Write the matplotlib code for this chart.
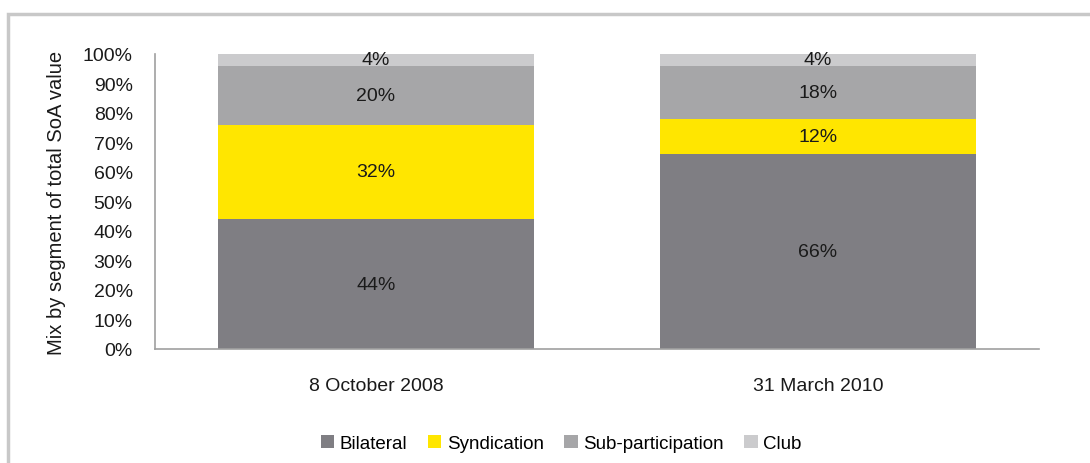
import matplotlib.pyplot as plt
from matplotlib.patches import Rectangle

plt.rcParams['font.family'] = ['Liberation Sans', 'DejaVu Sans']

dates = ["8 October 2008", "31 March 2010"]
segments = ["Bilateral", "Syndication", "Sub-participation", "Club"]
bilateral = [44, 66]
syndication = [32, 12]
sub_participation = [20, 18]
club = [4, 4]
colors = ["#7f7e83", "#ffe600", "#a6a6a8", "#cbcbcd"]

fig = plt.figure(figsize=(10.9, 4.64), dpi=100)
ax = fig.add_axes([0.1422, 0.2457, 0.8110, 0.6358])

# grey frame around the chart area
fig.patches.append(Rectangle((8 / 1090, -0.1), 1.2, (464 - 15) / 464 + 0.1,
                             transform=fig.transFigure, fill=False,
                             edgecolor="#c8c8c8", linewidth=2.5))

x = range(len(dates))
bottom = [0, 0]
for name, vals, c in zip(segments, [bilateral, syndication, sub_participation, club], colors):
    bars = ax.bar(x, vals, 0.713, bottom=bottom, color=c, label=name)
    for i, v in enumerate(vals):
        ax.text(i, bottom[i] + v / 2, f"{v}%", ha="center", va="center",
                fontsize=14, color="#1a1a1a")
    bottom = [b + v for b, v in zip(bottom, vals)]

ax.set_xlim(-0.5, 1.5)
ax.set_ylim(0, 100)
ax.set_yticks(range(0, 101, 10))
ax.set_yticklabels([f"{t}%" for t in range(0, 101, 10)])
ax.set_xticks(list(x))
ax.set_xticklabels(dates)
ax.tick_params(axis="both", length=0, labelsize=14, colors="#1a1a1a")
ax.tick_params(axis="y", pad=16)
ax.tick_params(axis="x", pad=20)
ax.spines["top"].set_visible(False)
ax.spines["right"].set_visible(False)
ax.spines["left"].set_color("#a0a0a0")
ax.spines["bottom"].set_color("#a0a0a0")
ax.spines["left"].set_linewidth(1.2)
ax.spines["bottom"].set_linewidth(1.2)
ax.set_ylabel("Mix by segment of total SoA value", fontsize=14.5, color="#1a1a1a", labelpad=12)

fig.legend(loc="center", bbox_to_anchor=(0.515, 0.042), ncol=4, frameon=False,
           fontsize=13.5, handlelength=0.7, handleheight=0.7, handletextpad=0.3,
           columnspacing=1.1)

fig.savefig("out.png", dpi=100)
